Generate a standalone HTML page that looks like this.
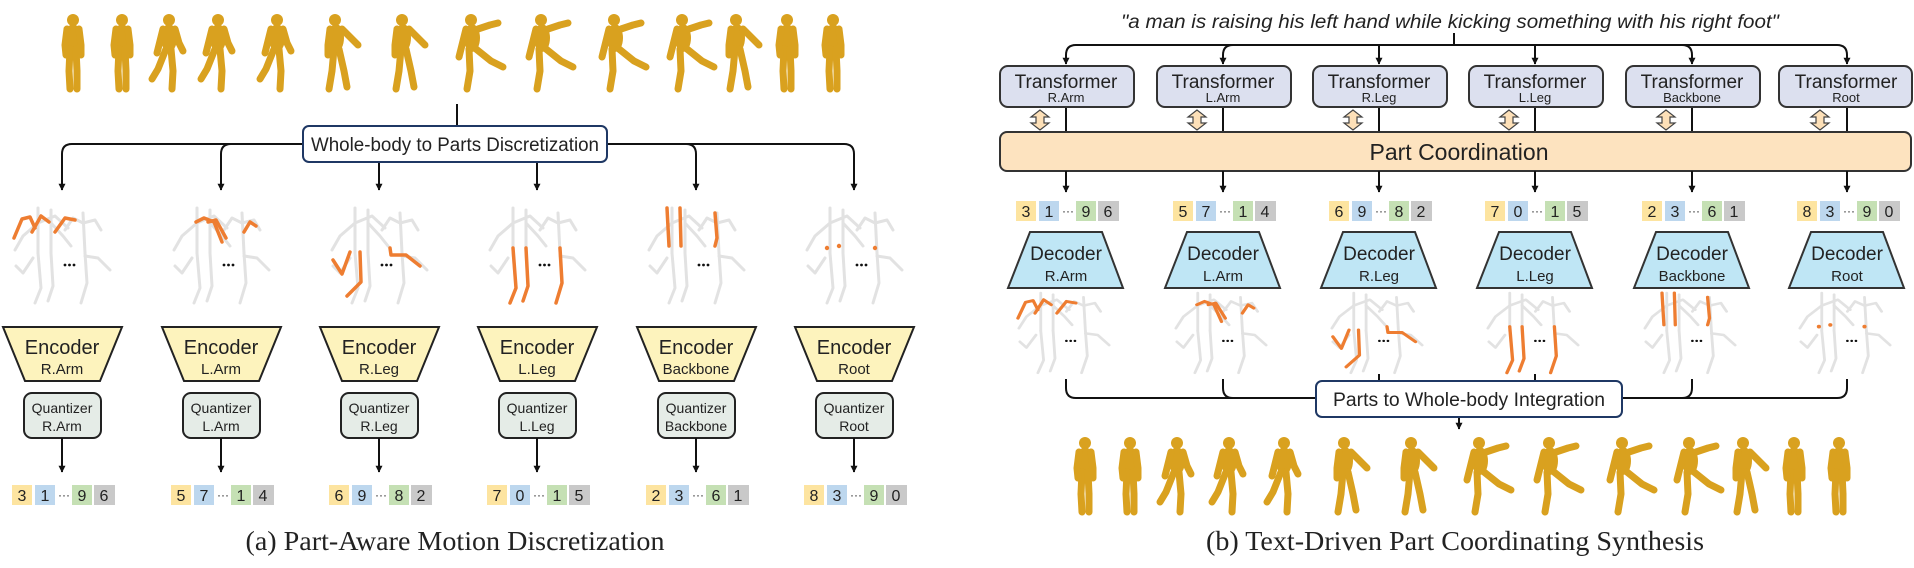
<!DOCTYPE html>
<html><head><meta charset="utf-8"><style>
html,body{margin:0;padding:0;background:#fff;}
svg{display:block;}
text{font-family:"Liberation Sans",sans-serif;fill:#222;}
.ser{font-family:"Liberation Serif",serif;}
</style></head><body>
<svg width="1914" height="568" viewBox="0 0 1914 568" xmlns="http://www.w3.org/2000/svg">
<defs>
<marker id="ah" viewBox="0 0 10 10" refX="9" refY="5" markerWidth="7" markerHeight="7" orient="auto" markerUnits="userSpaceOnUse"><path d="M0,0 L10,5 L0,10 z" fill="#111"/></marker>
<g id="fStand" stroke="#d9a11f" stroke-width="7" stroke-linecap="round" stroke-linejoin="round" fill="none">
<circle cx="20" cy="7" r="6" fill="#d9a11f" stroke="none"/>
<ellipse cx="20" cy="25" rx="8" ry="14" fill="#d9a11f" stroke="none"/>
<polyline points="17,36 16,58 17,76"/><polyline points="23,36 24,58 24,76"/>
<polyline points="14,16 12,32 13,42"/><polyline points="26,16 28,32 28,42"/></g>
<g id="fWalk" stroke="#d9a11f" stroke-width="7" stroke-linecap="round" stroke-linejoin="round" fill="none">
<circle cx="21" cy="7" r="6" fill="#d9a11f" stroke="none"/>
<ellipse cx="21" cy="25" rx="8" ry="14" fill="#d9a11f" stroke="none"/>
<polyline points="18,36 10,56 4,66"/><polyline points="23,36 25,58 24,76"/>
<polyline points="15,16 11,32 9,40"/><polyline points="27,16 31,30 35,38"/></g>
<g id="fArm" stroke="#d9a11f" stroke-width="7" stroke-linecap="round" stroke-linejoin="round" fill="none">
<circle cx="18" cy="7" r="6" fill="#d9a11f" stroke="none"/>
<ellipse cx="19" cy="25" rx="8" ry="14" fill="#d9a11f" stroke="none"/>
<polyline points="17,36 15,58 12,76"/><polyline points="22,36 27,58 30,74"/>
<polyline points="13,16 11,32 11,42"/><polyline points="25,16 35,26 41,32"/></g>
<g id="fKick" stroke="#d9a11f" stroke-width="7" stroke-linecap="round" stroke-linejoin="round" fill="none">
<circle cx="16" cy="7" r="6" fill="#d9a11f" stroke="none"/>
<ellipse cx="17" cy="25" rx="8" ry="14" fill="#d9a11f" stroke="none"/>
<polyline points="14,36 15,58 12,76"/><polyline points="21,36 36,48 48,54"/>
<polyline points="11,16 7,32 4,44"/><polyline points="23,16 35,12 43,10"/></g>
<g id="skel" stroke="#e2e2e2" stroke-width="3" fill="none" stroke-linecap="round" stroke-linejoin="round">
<polyline points="25,0 25,45"/><polyline points="38,2 38,45"/><polyline points="70,5 72,45"/>
<polyline points="25,15 10,28 2,42"/><polyline points="25,15 42,8 55,20"/><polyline points="38,15 50,28 58,38"/>
<polyline points="70,15 60,10 52,22"/><polyline points="70,15 82,12 88,22"/><polyline points="72,48 85,50 97,62"/>
<polyline points="25,45 28,80 22,95"/><polyline points="38,45 40,78 35,93"/><polyline points="72,45 74,75 68,95"/>
<polyline points="20,50 10,65 3,58"/></g>
<g id="dots" fill="#111"><circle cx="52" cy="57" r="1.4"/><circle cx="56.5" cy="57" r="1.4"/><circle cx="61" cy="57" r="1.4"/></g>
<g id="oRArm" stroke="#ee7d31" stroke-width="3.5" fill="none" stroke-linecap="round" stroke-linejoin="round"><polyline points="1,30 9,11 17,9 22,20"/><polyline points="19,24 28,8 36,14"/><polyline points="42,24 52,10 62,12"/></g>
<g id="oLArm" stroke="#ee7d31" stroke-width="3.5" fill="none" stroke-linecap="round" stroke-linejoin="round"><polyline points="24,14 32,10 42,14 50,34"/><polyline points="36,14 44,12 54,30"/><polyline points="72,24 78,14 84,18"/></g>
<g id="oRLeg" stroke="#ee7d31" stroke-width="3.5" fill="none" stroke-linecap="round" stroke-linejoin="round"><polyline points="3,52 12,66 20,44"/><polyline points="30,44 31,74 17,88"/><polyline points="60,40 61,47 76,47 90,58"/></g>
<g id="oLLeg" stroke="#ee7d31" stroke-width="3.5" fill="none" stroke-linecap="round" stroke-linejoin="round"><polyline points="25,40 28,80 22,95"/><polyline points="38,40 40,78 35,93"/><polyline points="72,40 74,75 68,95"/></g>
<g id="oBack" stroke="#ee7d31" stroke-width="3.5" fill="none" stroke-linecap="round" stroke-linejoin="round"><polyline points="20,0 22,38"/><polyline points="33,0 34,38"/><polyline points="68,5 70,30 68,38"/></g>
<g id="oRoot" fill="#ee7d31"><circle cx="22" cy="40" r="2.2"/><circle cx="34" cy="38" r="2.2"/><circle cx="70" cy="40" r="2.2"/></g>
</defs>

<g>
<use href="#fStand" x="53" y="13"/><use href="#fStand" x="102" y="13"/><use href="#fWalk" x="148" y="13"/><use href="#fWalk" x="197" y="13"/><use href="#fWalk" x="256" y="13"/><use href="#fArm" x="317" y="13"/><use href="#fArm" x="384" y="13"/><use href="#fKick" x="455" y="13"/><use href="#fKick" x="525" y="13"/><use href="#fKick" x="598" y="13"/><use href="#fKick" x="666" y="13"/><use href="#fArm" x="718" y="13"/><use href="#fStand" x="767" y="13"/><use href="#fStand" x="813" y="13"/>
</g>

<g stroke="#111" stroke-width="2" fill="none">
<line x1="457" y1="104" x2="457" y2="126"/>
<path d="M62,190 V154 Q62,144 72,144 H844 Q854,144 854,154 V190" marker-end="url(#ah)"/>
<path d="M221,190 V154 Q221,144 231,144" />
<path d="M221,154 V190" marker-end="url(#ah)"/>
<path d="M696,190 V154 Q696,144 686,144"/>
<path d="M696,154 V190" marker-end="url(#ah)"/>
<path d="M62,154 V190" marker-end="url(#ah)"/>
<path d="M379,162 V190" marker-end="url(#ah)"/>
<path d="M537,162 V190" marker-end="url(#ah)"/>
</g>
<rect x="303" y="126" width="304" height="36" rx="6" fill="#fff" stroke="#1f3864" stroke-width="2"/>
<text x="455" y="151" font-size="19" text-anchor="middle" textLength="288" lengthAdjust="spacingAndGlyphs" fill="#1a1a2e">Whole-body to Parts Discretization</text>

<g text-anchor="middle">
<g transform="translate(62,0)">
<use href="#skel" x="-49" y="208"/><use href="#oRArm" x="-49" y="208"/><use href="#dots" x="-49" y="208"/>
<polygon points="-59,327 60,327 38,381 -37,381" fill="#fdf3bd" stroke="#222" stroke-width="2"/>
<text x="0" y="354" font-size="20">Encoder</text><text x="0" y="374" font-size="15">R.Arm</text>
<rect x="-38" y="393" width="77" height="45" rx="8" fill="#e5ece7" stroke="#222" stroke-width="2"/>
<text x="0" y="413" font-size="14">Quantizer</text><text x="0" y="431" font-size="14">R.Arm</text>
<line x1="0" y1="438" x2="0" y2="472" stroke="#111" stroke-width="2" marker-end="url(#ah)"/>
</g>
<g transform="translate(221,0)">
<use href="#skel" x="-49" y="208"/><use href="#oLArm" x="-49" y="208"/><use href="#dots" x="-49" y="208"/>
<polygon points="-59,327 60,327 38,381 -37,381" fill="#fdf3bd" stroke="#222" stroke-width="2"/>
<text x="0" y="354" font-size="20">Encoder</text><text x="0" y="374" font-size="15">L.Arm</text>
<rect x="-38" y="393" width="77" height="45" rx="8" fill="#e5ece7" stroke="#222" stroke-width="2"/>
<text x="0" y="413" font-size="14">Quantizer</text><text x="0" y="431" font-size="14">L.Arm</text>
<line x1="0" y1="438" x2="0" y2="472" stroke="#111" stroke-width="2" marker-end="url(#ah)"/>
</g>
<g transform="translate(379,0)">
<use href="#skel" x="-49" y="208"/><use href="#oRLeg" x="-49" y="208"/><use href="#dots" x="-49" y="208"/>
<polygon points="-59,327 60,327 38,381 -37,381" fill="#fdf3bd" stroke="#222" stroke-width="2"/>
<text x="0" y="354" font-size="20">Encoder</text><text x="0" y="374" font-size="15">R.Leg</text>
<rect x="-38" y="393" width="77" height="45" rx="8" fill="#e5ece7" stroke="#222" stroke-width="2"/>
<text x="0" y="413" font-size="14">Quantizer</text><text x="0" y="431" font-size="14">R.Leg</text>
<line x1="0" y1="438" x2="0" y2="472" stroke="#111" stroke-width="2" marker-end="url(#ah)"/>
</g>
<g transform="translate(537,0)">
<use href="#skel" x="-49" y="208"/><use href="#oLLeg" x="-49" y="208"/><use href="#dots" x="-49" y="208"/>
<polygon points="-59,327 60,327 38,381 -37,381" fill="#fdf3bd" stroke="#222" stroke-width="2"/>
<text x="0" y="354" font-size="20">Encoder</text><text x="0" y="374" font-size="15">L.Leg</text>
<rect x="-38" y="393" width="77" height="45" rx="8" fill="#e5ece7" stroke="#222" stroke-width="2"/>
<text x="0" y="413" font-size="14">Quantizer</text><text x="0" y="431" font-size="14">L.Leg</text>
<line x1="0" y1="438" x2="0" y2="472" stroke="#111" stroke-width="2" marker-end="url(#ah)"/>
</g>
<g transform="translate(696,0)">
<use href="#skel" x="-49" y="208"/><use href="#oBack" x="-49" y="208"/><use href="#dots" x="-49" y="208"/>
<polygon points="-59,327 60,327 38,381 -37,381" fill="#fdf3bd" stroke="#222" stroke-width="2"/>
<text x="0" y="354" font-size="20">Encoder</text><text x="0" y="374" font-size="15">Backbone</text>
<rect x="-38" y="393" width="77" height="45" rx="8" fill="#e5ece7" stroke="#222" stroke-width="2"/>
<text x="0" y="413" font-size="14">Quantizer</text><text x="0" y="431" font-size="14">Backbone</text>
<line x1="0" y1="438" x2="0" y2="472" stroke="#111" stroke-width="2" marker-end="url(#ah)"/>
</g>
<g transform="translate(854,0)">
<use href="#skel" x="-49" y="208"/><use href="#oRoot" x="-49" y="208"/><use href="#dots" x="-49" y="208"/>
<polygon points="-59,327 60,327 38,381 -37,381" fill="#fdf3bd" stroke="#222" stroke-width="2"/>
<text x="0" y="354" font-size="20">Encoder</text><text x="0" y="374" font-size="15">Root</text>
<rect x="-38" y="393" width="77" height="45" rx="8" fill="#e5ece7" stroke="#222" stroke-width="2"/>
<text x="0" y="413" font-size="14">Quantizer</text><text x="0" y="431" font-size="14">Root</text>
<line x1="0" y1="438" x2="0" y2="472" stroke="#111" stroke-width="2" marker-end="url(#ah)"/>
</g>
</g>

<g font-size="16" text-anchor="middle">
<g transform="translate(62,485)"><rect x="-50" width="20" height="20" fill="#fde4a0"/><rect x="-27" width="20" height="20" fill="#bdd7ee"/><rect x="10" width="20" height="20" fill="#c5e0b4"/><rect x="32" width="21" height="20" fill="#c9c9c9"/><text x="-40" y="16">3</text><text x="-17" y="16">1</text><text x="2" y="14" font-size="12">···</text><text x="20" y="16">9</text><text x="42" y="16">6</text></g>
<g transform="translate(221,485)"><rect x="-50" width="20" height="20" fill="#fde4a0"/><rect x="-27" width="20" height="20" fill="#bdd7ee"/><rect x="10" width="20" height="20" fill="#c5e0b4"/><rect x="32" width="21" height="20" fill="#c9c9c9"/><text x="-40" y="16">5</text><text x="-17" y="16">7</text><text x="2" y="14" font-size="12">···</text><text x="20" y="16">1</text><text x="42" y="16">4</text></g>
<g transform="translate(379,485)"><rect x="-50" width="20" height="20" fill="#fde4a0"/><rect x="-27" width="20" height="20" fill="#bdd7ee"/><rect x="10" width="20" height="20" fill="#c5e0b4"/><rect x="32" width="21" height="20" fill="#c9c9c9"/><text x="-40" y="16">6</text><text x="-17" y="16">9</text><text x="2" y="14" font-size="12">···</text><text x="20" y="16">8</text><text x="42" y="16">2</text></g>
<g transform="translate(537,485)"><rect x="-50" width="20" height="20" fill="#fde4a0"/><rect x="-27" width="20" height="20" fill="#bdd7ee"/><rect x="10" width="20" height="20" fill="#c5e0b4"/><rect x="32" width="21" height="20" fill="#c9c9c9"/><text x="-40" y="16">7</text><text x="-17" y="16">0</text><text x="2" y="14" font-size="12">···</text><text x="20" y="16">1</text><text x="42" y="16">5</text></g>
<g transform="translate(696,485)"><rect x="-50" width="20" height="20" fill="#fde4a0"/><rect x="-27" width="20" height="20" fill="#bdd7ee"/><rect x="10" width="20" height="20" fill="#c5e0b4"/><rect x="32" width="21" height="20" fill="#c9c9c9"/><text x="-40" y="16">2</text><text x="-17" y="16">3</text><text x="2" y="14" font-size="12">···</text><text x="20" y="16">6</text><text x="42" y="16">1</text></g>
<g transform="translate(854,485)"><rect x="-50" width="20" height="20" fill="#fde4a0"/><rect x="-27" width="20" height="20" fill="#bdd7ee"/><rect x="10" width="20" height="20" fill="#c5e0b4"/><rect x="32" width="21" height="20" fill="#c9c9c9"/><text x="-40" y="16">8</text><text x="-17" y="16">3</text><text x="2" y="14" font-size="12">···</text><text x="20" y="16">9</text><text x="42" y="16">0</text></g>

<g transform="translate(1066,201)"><rect x="-50" width="20" height="20" fill="#fde4a0"/><rect x="-27" width="20" height="20" fill="#bdd7ee"/><rect x="10" width="20" height="20" fill="#c5e0b4"/><rect x="32" width="21" height="20" fill="#c9c9c9"/><text x="-40" y="16">3</text><text x="-17" y="16">1</text><text x="2" y="14" font-size="12">···</text><text x="20" y="16">9</text><text x="42" y="16">6</text></g>
<g transform="translate(1223,201)"><rect x="-50" width="20" height="20" fill="#fde4a0"/><rect x="-27" width="20" height="20" fill="#bdd7ee"/><rect x="10" width="20" height="20" fill="#c5e0b4"/><rect x="32" width="21" height="20" fill="#c9c9c9"/><text x="-40" y="16">5</text><text x="-17" y="16">7</text><text x="2" y="14" font-size="12">···</text><text x="20" y="16">1</text><text x="42" y="16">4</text></g>
<g transform="translate(1379,201)"><rect x="-50" width="20" height="20" fill="#fde4a0"/><rect x="-27" width="20" height="20" fill="#bdd7ee"/><rect x="10" width="20" height="20" fill="#c5e0b4"/><rect x="32" width="21" height="20" fill="#c9c9c9"/><text x="-40" y="16">6</text><text x="-17" y="16">9</text><text x="2" y="14" font-size="12">···</text><text x="20" y="16">8</text><text x="42" y="16">2</text></g>
<g transform="translate(1535,201)"><rect x="-50" width="20" height="20" fill="#fde4a0"/><rect x="-27" width="20" height="20" fill="#bdd7ee"/><rect x="10" width="20" height="20" fill="#c5e0b4"/><rect x="32" width="21" height="20" fill="#c9c9c9"/><text x="-40" y="16">7</text><text x="-17" y="16">0</text><text x="2" y="14" font-size="12">···</text><text x="20" y="16">1</text><text x="42" y="16">5</text></g>
<g transform="translate(1692,201)"><rect x="-50" width="20" height="20" fill="#fde4a0"/><rect x="-27" width="20" height="20" fill="#bdd7ee"/><rect x="10" width="20" height="20" fill="#c5e0b4"/><rect x="32" width="21" height="20" fill="#c9c9c9"/><text x="-40" y="16">2</text><text x="-17" y="16">3</text><text x="2" y="14" font-size="12">···</text><text x="20" y="16">6</text><text x="42" y="16">1</text></g>
<g transform="translate(1847,201)"><rect x="-50" width="20" height="20" fill="#fde4a0"/><rect x="-27" width="20" height="20" fill="#bdd7ee"/><rect x="10" width="20" height="20" fill="#c5e0b4"/><rect x="32" width="21" height="20" fill="#c9c9c9"/><text x="-40" y="16">8</text><text x="-17" y="16">3</text><text x="2" y="14" font-size="12">···</text><text x="20" y="16">9</text><text x="42" y="16">0</text></g>
</g>

<text class="ser" x="455" y="550" font-size="27" text-anchor="middle" textLength="419" lengthAdjust="spacingAndGlyphs">(a) Part-Aware Motion Discretization</text>

<text x="1450" y="28" font-size="19" font-style="italic" text-anchor="middle" textLength="658" lengthAdjust="spacingAndGlyphs" fill="#222">"a man is raising his left hand while kicking something with his right foot"</text>
<g stroke="#111" stroke-width="2" fill="none">
<line x1="1454" y1="33" x2="1454" y2="45"/>
<path d="M1066,64 V55 Q1066,45 1076,45 H1837 Q1847,45 1847,55 V64" marker-end="url(#ah)"/>
<path d="M1066,55 V64" marker-end="url(#ah)"/>
<path d="M1223,64 V55 Q1223,45 1233,45"/><path d="M1223,55 V64" marker-end="url(#ah)"/>
<path d="M1692,64 V55 Q1692,45 1682,45"/><path d="M1692,55 V64" marker-end="url(#ah)"/>
<path d="M1379,45 V64" marker-end="url(#ah)"/>
<path d="M1535,45 V64" marker-end="url(#ah)"/>
<path d="M1066,379 V388 Q1066,398 1076,398 H1837 Q1847,398 1847,388 V379"/>
<path d="M1223,379 V388 Q1223,398 1233,398"/>
<path d="M1692,379 V388 Q1692,398 1682,398"/>
<line x1="1379" y1="374" x2="1379" y2="381"/><line x1="1535" y1="374" x2="1535" y2="381"/>
<path d="M1459,417 V429" marker-end="url(#ah)"/>
</g>

<g text-anchor="middle">
<g transform="translate(1066,0)">
<line x1="0" y1="106" x2="0" y2="133" stroke="#111" stroke-width="2"/>
<rect x="-66" y="66" width="134" height="41" rx="8" fill="#dce0ef" stroke="#333" stroke-width="2"/>
<text x="0" y="88" font-size="19">Transformer</text><text x="0" y="102" font-size="13">R.Arm</text>
<path d="M-26,110 l-9,7 h5 v6 h-5 l9,7 l9,-7 h-5 v-6 h5 z" fill="#fde0b8" stroke="#444" stroke-width="1.2"/>
</g>
<g transform="translate(1223,0)">
<line x1="0" y1="106" x2="0" y2="133" stroke="#111" stroke-width="2"/>
<rect x="-66" y="66" width="134" height="41" rx="8" fill="#dce0ef" stroke="#333" stroke-width="2"/>
<text x="0" y="88" font-size="19">Transformer</text><text x="0" y="102" font-size="13">L.Arm</text>
<path d="M-26,110 l-9,7 h5 v6 h-5 l9,7 l9,-7 h-5 v-6 h5 z" fill="#fde0b8" stroke="#444" stroke-width="1.2"/>
</g>
<g transform="translate(1379,0)">
<line x1="0" y1="106" x2="0" y2="133" stroke="#111" stroke-width="2"/>
<rect x="-66" y="66" width="134" height="41" rx="8" fill="#dce0ef" stroke="#333" stroke-width="2"/>
<text x="0" y="88" font-size="19">Transformer</text><text x="0" y="102" font-size="13">R.Leg</text>
<path d="M-26,110 l-9,7 h5 v6 h-5 l9,7 l9,-7 h-5 v-6 h5 z" fill="#fde0b8" stroke="#444" stroke-width="1.2"/>
</g>
<g transform="translate(1535,0)">
<line x1="0" y1="106" x2="0" y2="133" stroke="#111" stroke-width="2"/>
<rect x="-66" y="66" width="134" height="41" rx="8" fill="#dce0ef" stroke="#333" stroke-width="2"/>
<text x="0" y="88" font-size="19">Transformer</text><text x="0" y="102" font-size="13">L.Leg</text>
<path d="M-26,110 l-9,7 h5 v6 h-5 l9,7 l9,-7 h-5 v-6 h5 z" fill="#fde0b8" stroke="#444" stroke-width="1.2"/>
</g>
<g transform="translate(1692,0)">
<line x1="0" y1="106" x2="0" y2="133" stroke="#111" stroke-width="2"/>
<rect x="-66" y="66" width="134" height="41" rx="8" fill="#dce0ef" stroke="#333" stroke-width="2"/>
<text x="0" y="88" font-size="19">Transformer</text><text x="0" y="102" font-size="13">Backbone</text>
<path d="M-26,110 l-9,7 h5 v6 h-5 l9,7 l9,-7 h-5 v-6 h5 z" fill="#fde0b8" stroke="#444" stroke-width="1.2"/>
</g>
<g transform="translate(1846,0)">
<line x1="1" y1="106" x2="1" y2="133" stroke="#111" stroke-width="2"/>
<rect x="-67" y="66" width="133" height="41" rx="8" fill="#dce0ef" stroke="#333" stroke-width="2"/>
<text x="0" y="88" font-size="19">Transformer</text><text x="0" y="102" font-size="13">Root</text>
<path d="M-26,110 l-9,7 h5 v6 h-5 l9,7 l9,-7 h-5 v-6 h5 z" fill="#fde0b8" stroke="#444" stroke-width="1.2"/>
</g>
</g>

<rect x="1000" y="132" width="911" height="39" rx="7" fill="#fde3bf" stroke="#333" stroke-width="2"/>
<text x="1459" y="160" font-size="23" text-anchor="middle">Part Coordination</text>

<g stroke="#111" stroke-width="2">
<line x1="1066" y1="171" x2="1066" y2="192" marker-end="url(#ah)"/>
<line x1="1223" y1="171" x2="1223" y2="192" marker-end="url(#ah)"/>
<line x1="1379" y1="171" x2="1379" y2="192" marker-end="url(#ah)"/>
<line x1="1535" y1="171" x2="1535" y2="192" marker-end="url(#ah)"/>
<line x1="1692" y1="171" x2="1692" y2="192" marker-end="url(#ah)"/>
<line x1="1847" y1="171" x2="1847" y2="192" marker-end="url(#ah)"/>
</g>

<g text-anchor="middle">
<g transform="translate(1066,0)"><polygon points="-36,232 36,232 57,288 -58,288" fill="#bfe6f5" stroke="#333" stroke-width="2"/><text x="0" y="260" font-size="19">Decoder</text><text x="0" y="281" font-size="15">R.Arm</text>
<g transform="translate(-49,293) scale(0.95,0.84)"><use href="#skel"/><use href="#oRArm"/><use href="#dots"/></g></g>
<g transform="translate(1223,0)"><polygon points="-36,232 36,232 57,288 -58,288" fill="#bfe6f5" stroke="#333" stroke-width="2"/><text x="0" y="260" font-size="19">Decoder</text><text x="0" y="281" font-size="15">L.Arm</text>
<g transform="translate(-49,293) scale(0.95,0.84)"><use href="#skel"/><use href="#oLArm"/><use href="#dots"/></g></g>
<g transform="translate(1379,0)"><polygon points="-36,232 36,232 57,288 -58,288" fill="#bfe6f5" stroke="#333" stroke-width="2"/><text x="0" y="260" font-size="19">Decoder</text><text x="0" y="281" font-size="15">R.Leg</text>
<g transform="translate(-49,293) scale(0.95,0.84)"><use href="#skel"/><use href="#oRLeg"/><use href="#dots"/></g></g>
<g transform="translate(1535,0)"><polygon points="-36,232 36,232 57,288 -58,288" fill="#bfe6f5" stroke="#333" stroke-width="2"/><text x="0" y="260" font-size="19">Decoder</text><text x="0" y="281" font-size="15">L.Leg</text>
<g transform="translate(-49,293) scale(0.95,0.84)"><use href="#skel"/><use href="#oLLeg"/><use href="#dots"/></g></g>
<g transform="translate(1692,0)"><polygon points="-36,232 36,232 57,288 -58,288" fill="#bfe6f5" stroke="#333" stroke-width="2"/><text x="0" y="260" font-size="19">Decoder</text><text x="0" y="281" font-size="15">Backbone</text>
<g transform="translate(-49,293) scale(0.95,0.84)"><use href="#skel"/><use href="#oBack"/><use href="#dots"/></g></g>
<g transform="translate(1847,0)"><polygon points="-36,232 36,232 57,288 -58,288" fill="#bfe6f5" stroke="#333" stroke-width="2"/><text x="0" y="260" font-size="19">Decoder</text><text x="0" y="281" font-size="15">Root</text>
<g transform="translate(-49,293) scale(0.95,0.84)"><use href="#skel"/><use href="#oRoot"/><use href="#dots"/></g></g>
</g>

<rect x="1316" y="381" width="306" height="36" rx="6" fill="#fff" stroke="#1f3864" stroke-width="2"/>
<text x="1469" y="406" font-size="19" text-anchor="middle" textLength="272" lengthAdjust="spacingAndGlyphs" fill="#1a1a2e">Parts to Whole-body Integration</text>

<g>
<use href="#fStand" x="1065" y="436"/><use href="#fStand" x="1110" y="436"/><use href="#fWalk" x="1156" y="436"/><use href="#fWalk" x="1208" y="436"/><use href="#fWalk" x="1263" y="436"/><use href="#fArm" x="1326" y="436"/><use href="#fArm" x="1393" y="436"/><use href="#fKick" x="1463" y="436"/><use href="#fKick" x="1533" y="436"/><use href="#fKick" x="1606" y="436"/><use href="#fKick" x="1673" y="436"/><use href="#fArm" x="1725" y="436"/><use href="#fStand" x="1774" y="436"/><use href="#fStand" x="1819" y="436"/>
</g>

<text class="ser" x="1455" y="550" font-size="27" text-anchor="middle" textLength="498" lengthAdjust="spacingAndGlyphs">(b) Text-Driven Part Coordinating Synthesis</text>
</svg>
</body></html>
